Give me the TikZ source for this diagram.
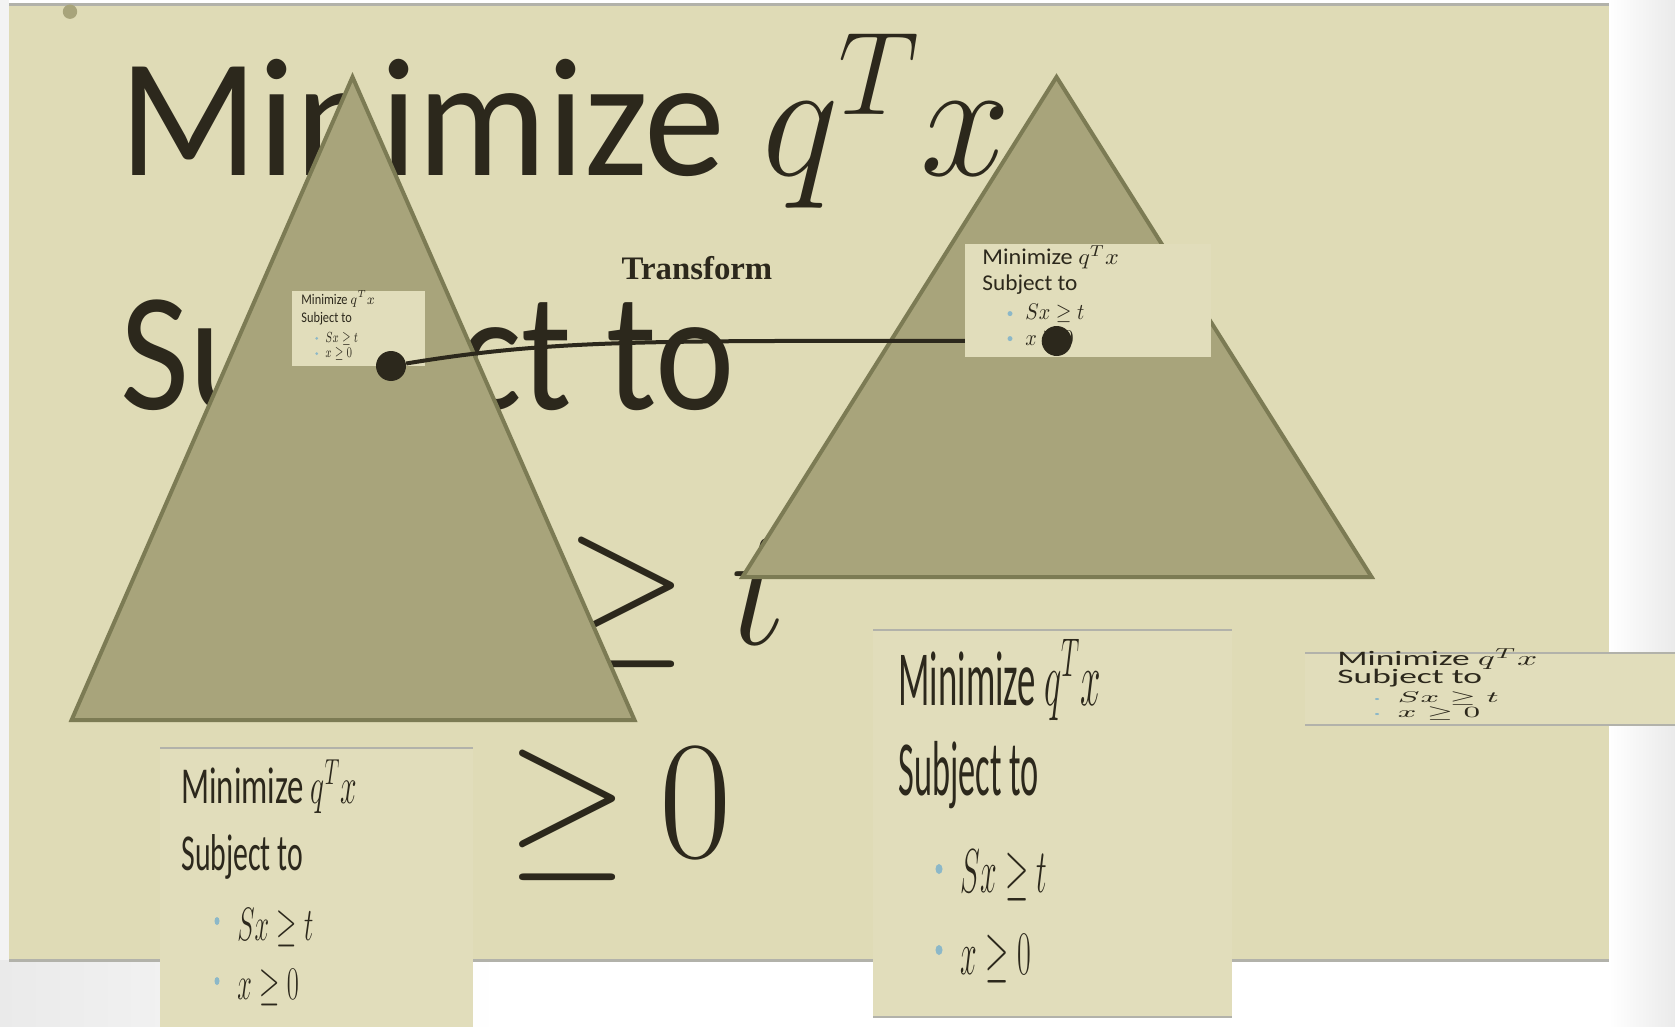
\RequirePackage{fix-cm}
\documentclass[tikz,border=0pt]{standalone}
\usepackage{fontspec}
\setmainfont{Carlito}
\newfontfamily\headfont{Liberation Serif}
\usepackage{graphicx}
\usetikzlibrary{shapes.geometric}

\definecolor{slidefill}{RGB}{223,219,182}
\definecolor{panelfill}{RGB}{225,221,187}
\definecolor{trifill}{RGB}{168,164,123}
\definecolor{triedge}{RGB}{124,123,84}
\definecolor{ink}{RGB}{44,40,28}
\definecolor{bulletblue}{RGB}{140,184,200}
\definecolor{rulegray}{RGB}{178,178,170}
\definecolor{pagegray}{RGB}{234,234,234}

\pgfdeclarelayer{front}
\pgfsetlayers{main,front}

% squeeze text sideways
\newcommand{\sq}[2]{\scalebox{#1}[1]{#2}}

\tikzset{
  panel/.style={fill=panelfill, draw=none},
  rulel/.style={draw=rulegray, line width=0.8pt},
  tri/.style={fill=trifill, draw=triedge, line width=2pt, line join=miter},
  txt/.style={inner sep=0pt, anchor=base west, text=ink},
  bul/.style 2 args={ellipse, fill=bulletblue, draw=none, inner sep=0pt, minimum width=#1, minimum height=#2},
  pin/.style={circle, fill=ink, inner sep=0pt, minimum size=15pt},
  link/.style={draw=ink, line width=2pt},
  fBig/.style={txt, font=\fontsize{84.5}{90}\selectfont},
  fA/.style={txt, font=\fontsize{7.35}{8}\selectfont},
  fB/.style={txt, font=\fontsize{11.3}{13}\selectfont},
  fC/.style={txt, font=\fontsize{25.9}{28}\selectfont},
  fCm/.style={txt, font=\fontsize{23.4}{26}\selectfont},
  fD/.style={txt, font=\fontsize{39}{42}\selectfont},
  fDm/.style={txt, font=\fontsize{31}{34}\selectfont},
  fE/.style={txt, font=\fontsize{10.3}{12}\selectfont},
  fEm/.style={txt, font=\fontsize{7.8}{9}\selectfont}
}

\begin{document}
\begin{tikzpicture}[x=0.5pt, y=-0.5pt]
\useasboundingbox (0,0) rectangle (1675,1027);
\fill[white] (0,0) rectangle (1675,1027);
\shade[left color=white, right color=pagegray] (1609,0) rectangle (1675,1027);
\shade[left color=pagegray, right color=white] (0,960) rectangle (500,1027);
\fill[pagegray!60] (0,0) rectangle (9,960);

% slide
\fill[slidefill] (9,5) rectangle (1609,960);
\draw[rulel, line width=1.5pt] (9,5) -- (1609,5);
\draw[rulel, line width=1.5pt] (9,960) -- (1609,960);
\fill[trifill] (70,11.7) circle (3.6pt);

% big slide text
\node[fBig] (bigMin) at (119,176) {\sq{0.96}{Minimize $q^T x$}};
\node[fBig] (bigSub) at (120,409) {\sq{0.89}{Subject to}};
\node[fBig, anchor=base east] (bigSx) at (787,644) {\sq{0.93}{$Sx \geq t$}};
\node[fBig, anchor=base east] (bigX) at (732,857) {\sq{0.93}{\thickmuskip=3.5mu $x \geq 0$}};

% triangles
\draw[tri] (352.5,77) -- (634.5,720) -- (71.6,720) -- cycle;
\draw[tri] (1056.5,77) -- (1371.6,577) -- (742.5,577) -- cycle;

% small copy on left triangle
\fill[panel] (291.7,290.7) rectangle (425,365.7);
\node[fA] (aMin) at (301,304.3) {\sq{0.84}{Minimize $q^T x$}};
\node[fA] (aSub) at (301,322.7) {\sq{0.84}{Subject to}};
\node[bul={1.5pt}{1.5pt}] (aB1) at (316.7,338.3) {};
\node[bul={1.5pt}{1.5pt}] (aB2) at (316.7,353.7) {};
\node[fA] (aSx) at (325,342.3) {\sq{0.66}{$Sx \geq t$}};
\node[fA] (aX) at (325,357.7) {\sq{0.66}{$x \geq 0$}};

% pins and connector
\begin{pgfonlayer}{front}
\node[pin] (pinA) at (391,366) {};
\node[pin] (pinB) at (1056.7,341) {};
\end{pgfonlayer}
\draw[link] (pinA) .. controls +(170,-28) and +(-400,0) .. (pinB);

% copy on right triangle
\fill[panel] (965,244) rectangle (1210.7,356.7);
\node[fB] (bMin) at (982,264.3) {\sq{1.07}{Minimize $q^T x$}};
\node[fB] (bSub) at (982,291) {\sq{1.03}{Subject to}};
\node[bul={2.5pt}{2.5pt}] (bB1) at (1010,313.6) {};
\node[bul={2.5pt}{2.5pt}] (bB2) at (1010,338.6) {};
\node[fB] (bSx) at (1025,320) {\sq{0.89}{$Sx \geq t$}};
\node[fB] (bX) at (1025,345) {\sq{0.89}{$x \geq 0$}};

\node[txt, anchor=base, font=\headfont\bfseries\fontsize{16.4}{18}\selectfont] (lblTransform) at (697,279) {Transform};

% bottom left copy
\fill[panel] (160,748) rectangle (473,1027);
\draw[rulel] (160,748) -- (473,748);
\node[fC] (cMin) at (181,803) {\sq{0.633}{Minimize}\sq{0.575}{~$q^T x$}};
\node[fC] (cSub) at (181,870) {\sq{0.575}{Subject to}};
\node[bul={2.5pt}{4pt}] (cB1) at (217,921) {};
\node[bul={2.5pt}{4pt}] (cB2) at (217,981) {};
\node[fCm] (cSx) at (237,940) {\sq{0.56}{$Sx \geq t$}};
\node[fCm] (cX) at (237,999) {\sq{0.56}{$x \geq 0$}};

% bottom middle copy
\fill[panel] (873,630) rectangle (1232,1017);
\draw[rulel] (873,630) -- (1232,630);
\draw[rulel] (873,1017) -- (1232,1017);
\node[fD] (dMin) at (898,705) {\sq{0.4715}{Minimize $q^T x$}};
\node[fD] (dSub) at (898,795) {\sq{0.44}{Subject to}};
\node[bul={3.5pt}{5pt}] (dB1) at (939,869) {};
\node[bul={3.5pt}{5pt}] (dB2) at (939,950) {};
\node[fDm] (dSx) at (960,892) {\sq{0.483}{$Sx \geq t$}};
\node[fDm] (dX) at (960,974) {\sq{0.483}{$x \geq 0$}};

% right copy
\fill[panel] (1305,652.7) rectangle (1675,725);
\draw[rulel] (1305,652.7) -- (1675,652.7);
\draw[rulel] (1305,725) -- (1675,725);
\node[fE] (eMin) at (1337,665.5) {\sq{1.72}{Minimize $q^T x$}};
\node[fE] (eSub) at (1337,683.6) {\sq{1.72}{Subject to}};
\node[bul={2pt}{1pt}] (eB1) at (1377,699) {};
\node[bul={2pt}{1pt}] (eB2) at (1377,714) {};
\node[fEm] (eSx) at (1397,702.8) {\sq{1.93}{$Sx \geq t$}};
\node[fEm] (eX) at (1397,717.8) {\sq{1.93}{$x \geq 0$}};
\end{tikzpicture}
\end{document}
